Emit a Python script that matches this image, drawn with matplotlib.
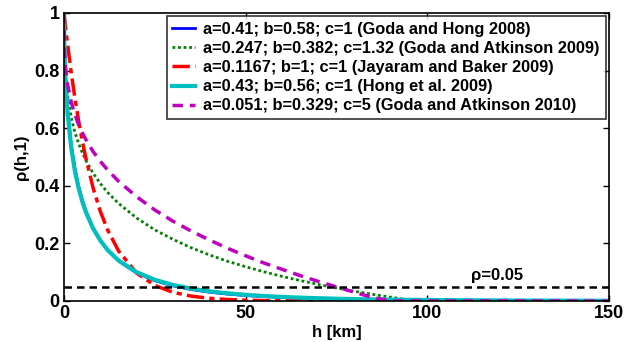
import matplotlib
matplotlib.use("Agg")
import matplotlib.pyplot as plt

plt.rcParams["font.family"] = ["Liberation Sans", "DejaVu Sans"]
plt.rcParams["font.weight"] = "bold"

# separation distance h [km]
h = [0, 0.1, 0.25, 0.5, 1, 2, 3, 4, 5, 6, 8, 10, 12, 15, 20, 25, 30, 35, 40, 45,
     50, 55, 60, 65, 70, 75, 80, 85, 90, 95, 100, 120, 150]

rho_goda_hong = [1, 0.898, 0.832, 0.760, 0.664, 0.542, 0.461, 0.400, 0.352, 0.314,
                 0.254, 0.210, 0.177, 0.139, 0.097, 0.0705, 0.0525, 0.0399, 0.0307,
                 0.024, 0.019, 0.0155, 0.0122, 0.0100, 0.0081, 0.0067, 0.0055,
                 0.0046, 0.0038, 0.0032, 0.0027, 0.0014, 0.0006]
rho_goda_atk09 = [1, 0.871, 0.821, 0.772, 0.711, 0.637, 0.586, 0.548, 0.516, 0.489,
                  0.444, 0.408, 0.377, 0.339, 0.288, 0.247, 0.214, 0.185, 0.160,
                  0.138, 0.119, 0.1015, 0.0855, 0.071, 0.0575, 0.045, 0.0335,
                  0.023, 0.013, 0.0034, 0, 0, 0]
rho_jayaram = [1, 0.988, 0.971, 0.943, 0.890, 0.792, 0.705, 0.627, 0.558, 0.497,
               0.393, 0.311, 0.247, 0.174, 0.097, 0.054, 0.030, 0.017, 0.0094,
               0.0052, 0.0029, 0.0016, 0.0009, 0.0005, 0.0003, 0.0002, 0.0001,
               0, 0, 0, 0, 0, 0]
rho_hong = [1, 0.888, 0.821, 0.747, 0.651, 0.531, 0.451, 0.393, 0.347, 0.309,
            0.252, 0.210, 0.177, 0.141, 0.100, 0.0737, 0.0557, 0.0429, 0.0336,
            0.0268, 0.0214, 0.0174, 0.0141, 0.0117, 0.0096, 0.0080, 0.0067,
            0.0057, 0.0048, 0.0041, 0.0035, 0.0019, 0.0008]
rho_goda_atk10 = [1, 0.882, 0.841, 0.801, 0.751, 0.690, 0.647, 0.613, 0.585, 0.561,
                  0.519, 0.485, 0.455, 0.416, 0.362, 0.316, 0.277, 0.243, 0.212,
                  0.183, 0.157, 0.132, 0.110, 0.088, 0.068, 0.049, 0.030, 0.012,
                  0, 0, 0, 0, 0]

labels = [
    "a=0.41; b=0.58; c=1 (Goda and Hong 2008)",
    "a=0.247; b=0.382; c=1.32 (Goda and Atkinson 2009)",
    "a=0.1167; b=1; c=1 (Jayaram and Baker 2009)",
    "a=0.43; b=0.56; c=1 (Hong et al. 2009)",
    "a=0.051; b=0.329; c=5 (Goda and Atkinson 2010)",
]
threshold = 0.05

fig = plt.figure(figsize=(6.38, 3.42), dpi=100)
ax = fig.add_axes([0.1003, 0.1199, 0.8542, 0.8421])

ax.plot(h, rho_goda_hong, color="#0000ff", lw=2.0, label=labels[0])
ax.plot(h, rho_goda_atk09, color="#008000", lw=2.0, linestyle=(0, (1, 1)), label=labels[1])
ax.plot(h, rho_jayaram, color="#ff0000", lw=2.5, linestyle=(0, (5, 1.5, 1.5, 1.5)), label=labels[2])
ax.plot(h, rho_hong, color="#00bfbf", lw=3.0, label=labels[3])
ax.plot(h, rho_goda_atk10, color="#bf00bf", lw=2.5, linestyle=(0, (3, 2)), label=labels[4])

ax.axhline(threshold, color="black", lw=1.8, linestyle=(0, (3, 2)))
ax.text(112, 0.072, "\u03c1=0.05", fontsize=12, fontweight="bold")

ax.set_xlim(0, 150)
ax.set_ylim(0, 1)
ax.set_xticks([0, 50, 100, 150])
ax.set_yticks([0, 0.2, 0.4, 0.6, 0.8, 1])
ax.set_yticklabels(["0", "0.2", "0.4", "0.6", "0.8", "1"])
ax.tick_params(direction="in", top=True, right=True, labelsize=13, length=4, width=1, pad=3)
for s in ax.spines.values():
    s.set_linewidth(1.2)

ax.set_xlabel("h [km]", fontsize=12, fontweight="bold", labelpad=2)
ax.set_ylabel("\u03c1(h,1)", fontsize=12, fontweight="bold", labelpad=4)

leg = ax.legend(loc="upper right", fontsize=11.8, frameon=True, fancybox=False,
                borderaxespad=0.2, handlelength=1.4, handletextpad=0.5,
                labelspacing=0.25, borderpad=0.35)
leg.get_frame().set_edgecolor("black")
leg.get_frame().set_linewidth(1.2)

fig.savefig("out.png", dpi=100)
